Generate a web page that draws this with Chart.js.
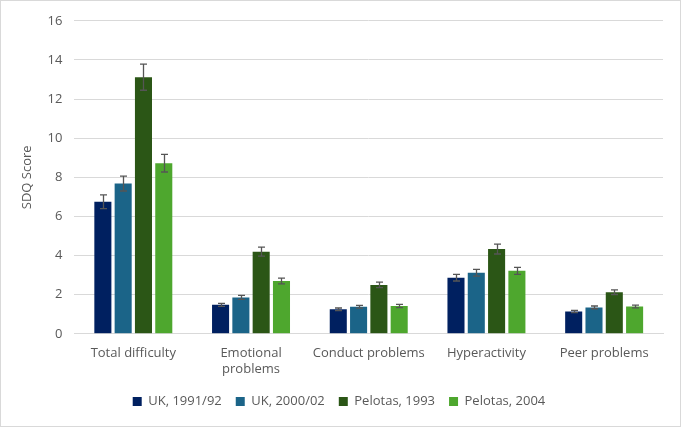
<!DOCTYPE html>
<html>
<head>
<meta charset="utf-8">
<script src="https://cdn.jsdelivr.net/npm/chart.js@4"></script>
<style>
  html, body { margin: 0; padding: 0; background: #fff; }
  #wrap { width: 681px; height: 427px; box-sizing: border-box; border: 1px solid #d9d9d9; position: relative; }
</style>
</head>
<body>
<div id="wrap"><canvas id="sdqChart"></canvas></div>
<script>
const categories = ['Total difficulty', ['Emotional', 'problems'], 'Conduct problems', 'Hyperactivity', 'Peer problems'];
const seriesNames = ['UK, 1991/92', 'UK, 2000/02', 'Pelotas, 1993', 'Pelotas, 2004'];
const uk1991 = [6.75, 1.48, 1.25, 2.87, 1.14];
const uk2000 = [7.68, 1.86, 1.38, 3.12, 1.35];
const pel1993 = [13.12, 4.2, 2.5, 4.33, 2.13];
const pel2004 = [8.72, 2.7, 1.42, 3.22, 1.4];
const uk1991Err = [0.35, 0.08, 0.07, 0.17, 0.06];
const uk2000Err = [0.38, 0.1, 0.07, 0.17, 0.07];
const pel1993Err = [0.67, 0.23, 0.14, 0.25, 0.12];
const pel2004Err = [0.45, 0.15, 0.08, 0.18, 0.07];
const yTicks = [0, 2, 4, 6, 8, 10, 12, 14, 16];

const colors = ['#002060', '#1b6488', '#2b5616', '#4ea72e'];
const values = [uk1991, uk2000, pel1993, pel2004];
const errors = [uk1991Err, uk2000Err, pel1993Err, pel2004Err];

const errorBars = {
    id: 'errorBars',
    afterDatasetsDraw(chart) {
        const ctx = chart.ctx;
        const y = chart.scales.y;
        ctx.save();
        ctx.strokeStyle = '#555555';
        ctx.lineWidth = 1.3;
        chart.data.datasets.forEach((ds, i) => {
            const meta = chart.getDatasetMeta(i);
            meta.data.forEach((bar, j) => {
                const v = ds.data[j], e = errors[i][j];
                const top = y.getPixelForValue(v + e);
                const bot = y.getPixelForValue(v - e);
                const x = Math.round(bar.x) + 0.5;
                ctx.beginPath();
                ctx.moveTo(x, top); ctx.lineTo(x, bot);
                ctx.moveTo(x - 3.5, top); ctx.lineTo(x + 3.5, top);
                ctx.moveTo(x - 3.5, bot); ctx.lineTo(x + 3.5, bot);
                ctx.stroke();
            });
        });
        ctx.restore();
    }
};

const ctx = document.getElementById('sdqChart').getContext('2d');
Chart.defaults.font.family = '"Open Sans", "Liberation Sans", sans-serif';
Chart.defaults.font.size = 13;
Chart.defaults.color = '#595959';

new Chart(ctx, {
    type: 'bar',
    data: {
        labels: categories,
        datasets: seriesNames.map((name, i) => ({
            label: name,
            data: values[i],
            backgroundColor: colors[i],
            categoryPercentage: 0.69,
            barPercentage: 0.84
        }))
    },
    options: {
        responsive: true,
        maintainAspectRatio: false,
        animation: false,
        layout: { padding: { top: 7, right: 17, left: 14, bottom: 8 } },
        plugins: {
            legend: {
                position: 'bottom',
                labels: { boxWidth: 9, boxHeight: 9, padding: 14, font: { size: 13 } }
            },
            tooltip: { enabled: false }
        },
        scales: {
            x: {
                grid: { display: false },
                border: { color: '#d9d9d9' },
                ticks: { font: { size: 13 }, maxRotation: 0, padding: 4 }
            },
            y: {
                min: 0,
                max: 16,
                afterBuildTicks: axis => { axis.ticks = yTicks.map(v => ({ value: v })); },
                grid: { color: '#d9d9d9', drawTicks: false },
                border: { display: false },
                ticks: { font: { size: 13 }, padding: 12 },
                title: { display: true, text: 'SDQ Score', font: { size: 13 }, padding: { bottom: 1 } }
            }
        }
    },
    plugins: [errorBars]
});
</script>
</body>
</html>
